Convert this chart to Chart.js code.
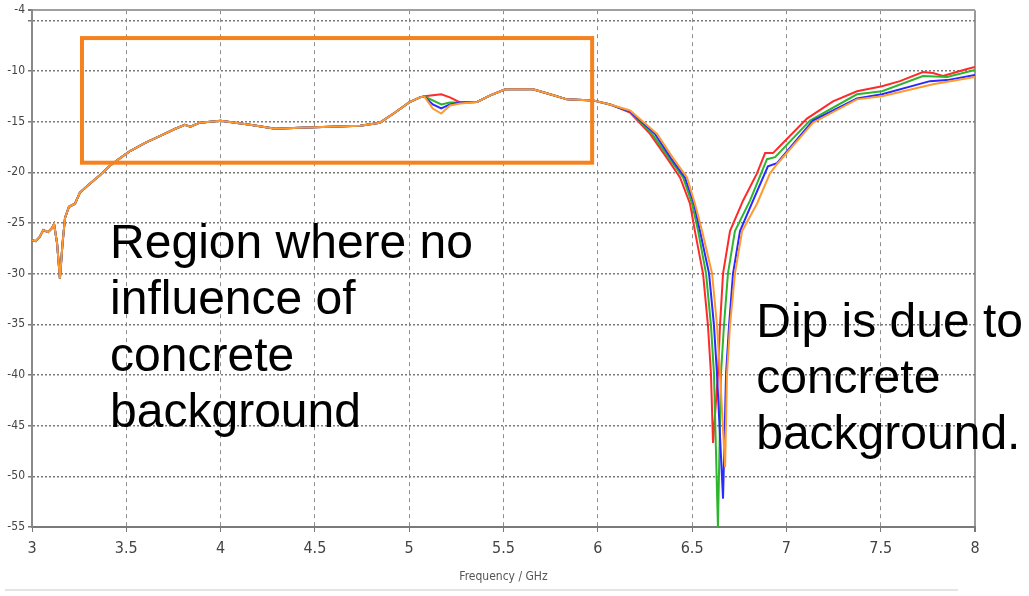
<!DOCTYPE html>
<html>
<head>
<meta charset="utf-8">
<script src="https://cdn.jsdelivr.net/npm/chart.js@4"></script>
<style>
    body { margin: 0; background: #fff; }
</style>
</head>
<body>
<canvas id="chart-s11" width="1029" height="596"></canvas>
<script>
Chart.defaults.font.family = "'DejaVu Sans', sans-serif"
Chart.defaults.font.weight = 'condensed'
Chart.defaults.color = '#444'

// tick values
const dbTicks = [-55, -50, -45, -40, -35, -30, -25, -20, -15, -10, -5, -4]

// 3 - 5.08 GHz, all four curves on top of each other
const freqCommonA = [3.00, 3.02, 3.04, 3.06, 3.085, 3.106, 3.117, 3.133, 3.148, 3.162, 3.175, 3.196, 3.228, 3.254, 3.308, 3.36, 3.41, 3.467, 3.52, 3.60, 3.68, 3.76, 3.81, 3.84, 3.89, 4.00, 4.156, 4.29, 4.42, 4.58, 4.74, 4.845, 4.925, 5.00, 5.057, 5.08]
const dbCommonA = [-26.7, -26.8, -26.4, -25.7, -25.9, -25.5, -25.1, -27.0, -30.5, -27.0, -24.5, -23.4, -23.1, -22.0, -21.1, -20.3, -19.4, -18.6, -17.9, -17.1, -16.4, -15.7, -15.3, -15.5, -15.1, -14.9, -15.3, -15.7, -15.6, -15.5, -15.4, -15.1, -14.1, -13.1, -12.6, -12.5]

// small bump near 5.15 GHz where the curves split
const freqBump = [5.125, 5.17, 5.216, 5.27]
const dbBumpRed = [-12.4, -12.3, -12.6, -13.1]
const dbBumpGreen = [-12.9, -13.3, -13.1, -13.1]
const dbBumpBlue = [-13.3, -13.7, -13.3, -13.1]
const dbBumpOrange = [-13.7, -14.2, -13.4, -13.2]

// 5.36 - 6.07 GHz, shared again
const freqCommonB = [5.36, 5.43, 5.51, 5.656, 5.747, 5.837, 5.975, 6.065]
const dbCommonB = [-13.05, -12.4, -11.8, -11.8, -12.3, -12.8, -12.9, -13.3]

// dip and upper band, one per curve
const freqTailRed = [6.171, 6.277, 6.367, 6.436, 6.489, 6.515, 6.558, 6.584, 6.600, 6.611, 6.627, 6.637, 6.648, 6.664, 6.701, 6.770, 6.844, 6.887, 6.929, 6.966, 7.109, 7.247, 7.374, 7.507, 7.602, 7.724, 7.777, 7.830, 7.958, 8.0]
const dbTailRed = [-14.1, -16.2, -18.6, -20.5, -23.1, -25.8, -30.0, -35.1, -39.9, -46.7, -42.5, -39.9, -35.1, -30.0, -25.8, -22.8, -20.1, -18.1, -18.1, -17.4, -14.7, -13.0, -12.0, -11.5, -11.0, -10.1, -10.2, -10.5, -9.8, -9.6]

const freqTailGreen = [6.171, 6.288, 6.378, 6.452, 6.500, 6.532, 6.574, 6.600, 6.616, 6.637, 6.653, 6.669, 6.690, 6.727, 6.807, 6.897, 6.940, 7.125, 7.374, 7.507, 7.724, 7.852, 8.0]
const dbTailGreen = [-14.0, -16.2, -18.6, -20.5, -23.1, -25.8, -30.0, -35.1, -39.9, -55.0, -39.9, -35.1, -30.0, -25.8, -22.8, -18.7, -18.5, -14.9, -12.3, -12.0, -10.5, -10.6, -9.9]

const freqTailBlue = [6.171, 6.303, 6.388, 6.462, 6.510, 6.542, 6.590, 6.616, 6.632, 6.664, 6.680, 6.696, 6.717, 6.754, 6.823, 6.902, 6.950, 7.141, 7.374, 7.507, 7.761, 7.852, 8.0]
const dbTailBlue = [-14.0, -16.2, -18.6, -20.5, -23.1, -25.8, -30.0, -35.1, -39.9, -52.2, -39.9, -35.1, -30.0, -25.8, -22.8, -19.4, -19.1, -14.9, -12.7, -12.3, -11.0, -10.9, -10.4]

const freqTailOrange = [6.171, 6.314, 6.399, 6.473, 6.515, 6.553, 6.606, 6.632, 6.648, 6.675, 6.685, 6.701, 6.727, 6.765, 6.844, 6.913, 6.950, 7.141, 7.374, 7.507, 7.777, 8.0]
const dbTailOrange = [-13.9, -16.2, -18.6, -20.5, -23.1, -25.8, -30.0, -35.1, -39.9, -49.1, -39.9, -35.1, -30.0, -25.8, -23.1, -20.1, -19.2, -15.1, -12.8, -12.5, -11.3, -10.6]

// annotation box (GHz, dB) and text anchors
const boxFreq = [3.265, 5.97]
const boxDb = [-6.75, -19.05]
const regionText = ['Region where no', 'influence of', 'concrete', 'background']
const dipText = ['Dip is due to', 'concrete', 'background.']


function toPoints(freqs, dbs) {
    return freqs.map((f, i) => ({ x: f, y: dbs[i] }))
}

function buildCurve(bump, tailFreq, tailDb) {
    return [
        ...toPoints(freqCommonA, dbCommonA),
        ...toPoints(freqBump, bump),
        ...toPoints(freqCommonB, dbCommonB),
        ...toPoints(tailFreq, tailDb)
    ]
}


const annotations = {
    id: 'annotations',
    afterDraw(chart) {
        const { ctx, scales: { x, y } } = chart
        ctx.save()

        // light rule under the chart
        ctx.strokeStyle = '#e4e4e4'
        ctx.lineWidth = 2
        ctx.beginPath()
        ctx.moveTo(5, 590)
        ctx.lineTo(958, 590)
        ctx.stroke()

        // orange box
        ctx.strokeStyle = '#f5821f'
        ctx.lineWidth = 4
        const x0 = x.getPixelForValue(boxFreq[0])
        const x1 = x.getPixelForValue(boxFreq[1])
        const y0 = y.getPixelForValue(boxDb[0])
        const y1 = y.getPixelForValue(boxDb[1])
        ctx.strokeRect(x0, y0, x1 - x0, y1 - y0)

        // texts
        ctx.fillStyle = '#000'
        ctx.font = "48px 'Liberation Sans', Arial, sans-serif"
        ctx.textAlign = 'left'
        ctx.textBaseline = 'middle'
        let tx = x.getPixelForValue(3.414)
        let ty = y.getPixelForValue(-27.1)
        regionText.forEach((line, i) => ctx.fillText(line, tx, ty + i * 56.5))

        tx = x.getPixelForValue(6.84)
        ty = y.getPixelForValue(-34.9)
        dipText.forEach((line, i) => ctx.fillText(line, tx, ty + i * 56))

        ctx.restore()
    }
}


function printS11Chart() {

    let data = {
        datasets: [
            {
                data: buildCurve(dbBumpOrange, freqTailOrange, dbTailOrange),
                label: 'orange',
                borderColor: '#ff9a30',
            },
            {
                data: buildCurve(dbBumpBlue, freqTailBlue, dbTailBlue),
                label: 'blue',
                borderColor: '#2a2aff',
            },
            {
                data: buildCurve(dbBumpGreen, freqTailGreen, dbTailGreen),
                label: 'green',
                borderColor: '#2db52d',
            },
            {
                data: buildCurve(dbBumpRed, freqTailRed, dbTailRed),
                label: 'red',
                borderColor: '#ff2a2a',
            }
        ]
    }

    let options = {
        responsive: false,
        animation: false,
        layout: {
            padding: { top: 9, right: 54, left: 0, bottom: 0 }
        },
        elements: {
            point: { radius: 0 },
            line: { borderWidth: 2, tension: 0 }
        },
        plugins: {
            legend: { display: false },
            tooltip: { enabled: false }
        },
        scales: {
            x: {
                type: 'linear',
                min: 3,
                max: 8,
                ticks: {
                    stepSize: 0.5,
                    padding: 7,
                    font: { size: 16 },
                    maxRotation: 0,
                    callback: value => String(value)
                },
                grid: {
                    color: ctx => ctx.tick && ctx.tick.value === 8 ? '#9a9a9a' : '#8c8c8c',
                    lineWidth: ctx => ctx.tick && ctx.tick.value === 8 ? 2 : 1,
                    tickLength: 5,
                    tickColor: '#777'
                },
                border: {
                    color: '#7a7a7a',
                    width: 2,
                    dash: ctx => ctx.tick && ctx.tick.value === 8 ? [] : [4, 4]
                },
                title: {
                    display: true,
                    text: 'Frequency / GHz',
                    color: '#555',
                    font: { size: 12 },
                    padding: { top: 2, bottom: 12 }
                },
                afterFit: scale => { scale.height = 69 }
            },
            y: {
                min: -55,
                max: -4,
                afterBuildTicks: scale => {
                    scale.ticks = dbTicks.map(v => ({ value: v }))
                },
                ticks: {
                    padding: 3,
                    font: { size: 12 },
                    callback: value => value === -5 ? '' : value
                },
                grid: {
                    color: ctx => ctx.tick && ctx.tick.value === -4 ? '#a0a0a0' : '#7a7a7a',
                    lineWidth: ctx => ctx.tick && ctx.tick.value === -4 ? 2 : 1.5,
                    tickLength: 4,
                    tickColor: '#777'
                },
                border: {
                    color: '#8a8a8a',
                    width: 2,
                    dash: ctx => ctx.tick && ctx.tick.value === -4 ? [] : [2, 2]
                },
                afterFit: scale => { scale.width = 32 }
            }
        }
    }

    new Chart('chart-s11', { type: 'line', data, options, plugins: [annotations] })

}

printS11Chart()
</script>
</body>
</html>
